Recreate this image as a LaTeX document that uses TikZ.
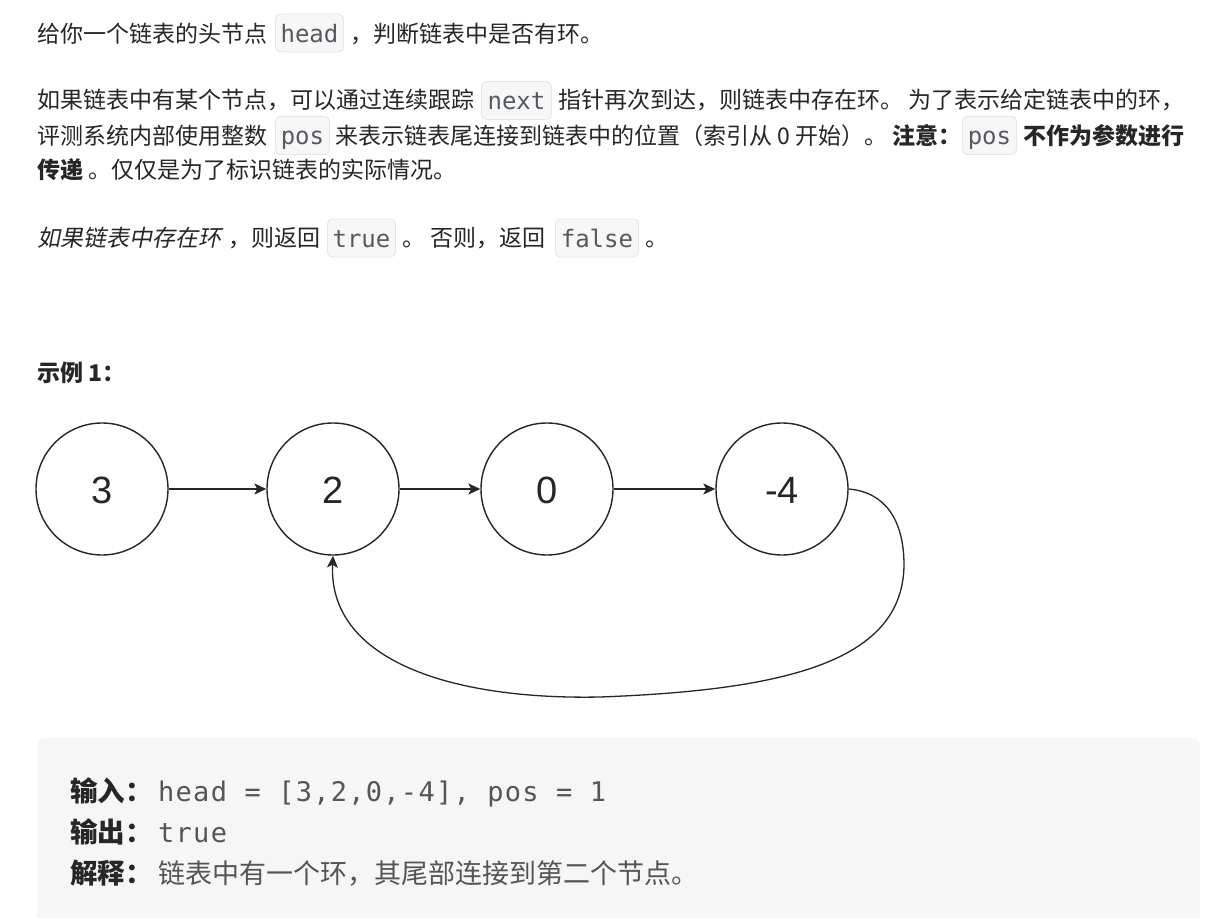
\documentclass[tikz,border=0pt]{standalone}
\usepackage{fontspec}
\setmainfont{Noto Sans CJK SC}
\newfontfamily\cjk{Noto Sans CJK SC}
\newfontfamily\cjkit[FakeSlant=0.2]{Noto Sans CJK SC}
\newfontfamily\monoA{DejaVu Sans Mono}
\newfontfamily\monoB[LetterSpace=4.7]{DejaVu Sans Mono}
\newfontfamily\helv{Liberation Sans}
\usetikzlibrary{arrows.meta}
\definecolor{textc}{HTML}{262626}
\definecolor{codefg}{HTML}{555A60}
\definecolor{codebg}{HTML}{F7F7F7}
\definecolor{codeborder}{HTML}{E6E6E6}
\definecolor{blockbg}{HTML}{F6F6F6}
\definecolor{blockfg}{HTML}{555555}
\newcommand\bodyfont{\cjk\fontsize{23}{27}\selectfont}
\newcommand\bodybold{\cjk\bfseries\fontsize{23}{27}\selectfont}
\newcommand\bodyit{\cjkit\fontsize{23}{27}\selectfont}
\newcommand\codefont{\monoA\fontsize{24}{28}\selectfont}
\newcommand\blockcjk{\cjk\fontsize{27}{32}\selectfont}
\newcommand\blockcjkb{\cjk\bfseries\fontsize{27.5}{32}\selectfont}
\newcommand\blockmono{\monoB\fontsize{27}{32}\selectfont}
\newcommand\numfont{\helv\fontsize{38}{40}\selectfont}
\tikzset{
  body/.style={anchor=base west, inner sep=0pt, text=textc, font=\bodyfont},
  bodyb/.style={body, font=\bodybold},
  bodyi/.style={body, font=\bodyit},
  codebox/.style={anchor=west, draw=codeborder, fill=codebg, rounded corners=5pt,
    line width=0.9pt, text=codefg, font=\codefont, minimum height=38pt,
    inner sep=0pt, text height=18pt, text depth=0pt},
  circ/.style={circle, draw=black!85, line width=1.4pt, minimum size=132pt,
    inner sep=0pt, font=\numfont, text=textc, text height=28pt, text depth=0pt},
  arr/.style={draw=black!85, line width=1.3pt,
    -{Stealth[length=12pt,width=11pt,inset=3pt]}},
  blkb/.style={anchor=base west, inner sep=0pt, text=textc, font=\blockcjkb},
  blkm/.style={anchor=base west, inner sep=0pt, text=blockfg, font=\blockmono},
  blkc/.style={anchor=base west, inner sep=0pt, text=blockfg, font=\blockcjk},
}
\begin{document}
\begin{tikzpicture}[x=1pt,y=-1pt]
\useasboundingbox (0,0) rectangle (1211,918);
\clip (0,0) rectangle (1211,918);
\fill[white] (0,0) rectangle (1211,918);

% line 1
\node[body] (l1a) at (37,42.6) {给你一个链表的头节点};
\node[codebox, minimum width=68pt] (l1b) at (275,33) {head};
\node[body] (l1c) at (350,42.6) {，判断链表中是否有环。};

% line 2
\node[body] (l2a) at (37,108.6) {如果链表中有某个节点，可以通过连续跟踪};
\node[codebox, minimum width=70pt] (l2b) at (481,100.5) {next};
\node[body] (l2c) at (558,108.6) {指针再次到达，则链表中存在环。 为了表示给定链表中的环，};

% line 3
\node[body] (l3a) at (37,144.6) {评测系统内部使用整数};
\node[codebox, minimum width=54pt] (l3b) at (275,135.5) {pos};
\node[body] (l3c) at (335,144.6) {来表示链表尾连接到链表中的位置（索引从 0 开始）。};
\node[bodyb] (l3d) at (892,144.6) {注意：};
\node[codebox, minimum width=54pt] (l3e) at (962,135.5) {pos};
\node[bodyb] (l3f) at (1023,144.6) {不作为参数进行};

% line 4
\node[bodyb] (l4a) at (37,178.6) {传递};
\node[body] (l4b) at (88,178.6) {。仅仅是为了标识链表的实际情况。};

% line 5
\node[bodyi] (l5a) at (37,246.6) {如果链表中存在环};
\node[body] (l5b) at (228,246.6) {，则返回};
\node[codebox, minimum width=68pt] (l5c) at (327,238) {true};
\node[body] (l5d) at (402,246.6) {。 否则，返回};
\node[codebox, minimum width=83pt] (l5e) at (555,238) {false};
\node[body] (l5f) at (645,246.6) {。};

% example title
\node[bodyb] (ex) at (37,381.4) {示例 1：};

% linked list
\node[circ] (n3) at (102,489) {3};
\node[circ] (n2) at (333,489) {2};
\node[circ] (n0) at (547,489) {0};
\node[circ] (m4) at (782,489) {-4};
\draw[arr] (n3.east) -- (n2.west);
\draw[arr] (n2.east) -- (n0.west);
\draw[arr] (n0.east) -- (m4.west);
\draw[arr] (m4.east) .. controls (885,492) and (904,520) .. (904,565)
  .. controls (903,660) and (790,690) .. (600,697)
  .. controls (450,700) and (328,660) .. (n2.south);

% example block
\fill[blockbg, rounded corners=8pt] (37,738) rectangle (1200,940);
\node[blkb] (b1a) at (70,801.5) {输入：};
\node[blkm] (b1b) at (158,801.5) {head = [3,2,0,-4], pos = 1};
\node[blkb] (b2a) at (70,842.5) {输出：};
\node[blkm] (b2b) at (158,842.5) {true};
\node[blkb] (b3a) at (70,883.5) {解释：};
\node[blkc] (b3b) at (158,883.5) {链表中有一个环，其尾部连接到第二个节点。};
\end{tikzpicture}
\end{document}
